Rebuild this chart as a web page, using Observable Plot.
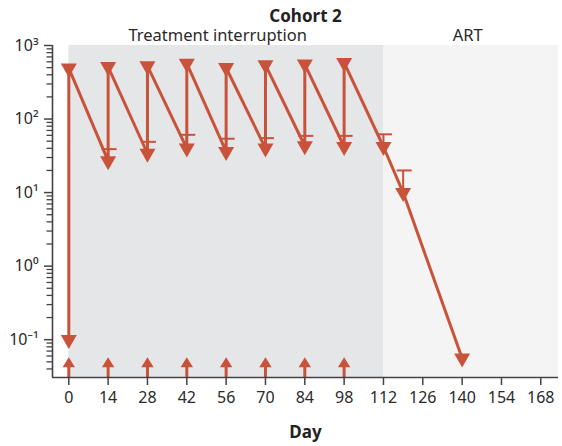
<!DOCTYPE html>
<html><head><meta charset="utf-8">
<script src="https://cdn.jsdelivr.net/npm/d3@7"></script>
<script src="https://cdn.jsdelivr.net/npm/@observablehq/plot@0.6"></script>
<style>body{margin:0;background:#fff}</style>
</head><body><div id="chart"></div>
<script>
// ---- data ----
const title = "Cohort 2";
const xLabel = "Day";
const phaseNames = ["Treatment interruption", "ART"];
const phaseStart = [0, 112];
const phaseEnd = [112, 174.3];
const phaseLabelDay = [53, 142];
const phaseFill = ["#e5e6e8", "#f4f4f4"];

const lineDays   = [0, 0, 14, 14, 28, 28, 42, 42, 56, 56, 70, 70, 84, 84, 98, 98, 112, 119, 140];
const lineValues = [0.1, 492, 27, 514, 34, 528, 40, 572, 36, 498, 40, 546, 43, 555, 42, 583, 42, 10, 0.056];

const errDays = [14, 28, 42, 56, 70, 84, 98, 112, 119];
const errLow  = [27, 34, 40, 36, 40, 43, 42, 42, 10];
const errHigh = [39, 49, 61, 54, 55, 59, 59, 62, 20];

const doseDays = [0, 14, 28, 42, 56, 70, 84, 98];

const xTicks = [0, 14, 28, 42, 56, 70, 84, 98, 112, 126, 140, 154, 168];
const yTicks = [0.1, 1, 10, 100, 1000];
const yTickLabels = ["10\u207B\u00B9", "10\u2070", "10\u00B9", "10\u00B2", "10\u00B3"];
const xDomain = [-5.8, 174.3];
const yDomain = [0.0306, 1000];

// ---- styling helpers ----
const red = "#c9533a";
const axisColor = "#444";
const minorTicks = [];
for (let e = -2; e <= 2; e++) for (let k = 2; k <= 9; k++) {
  const v = k * Math.pow(10, e);
  if (v > yDomain[0] && v < yDomain[1]) minorTicks.push(v);
}
const line = lineDays.map((d, i) => ({day: d, value: lineValues[i]}));
const errs = errDays.map((d, i) => ({day: d, lo: errLow[i], hi: errHigh[i]}));
const phases = phaseNames.map((n, i) => ({name: n, start: phaseStart[i], end: phaseEnd[i], labelDay: phaseLabelDay[i], fill: phaseFill[i]}));

const downTri = {draw(ctx) { ctx.moveTo(-8, -4.7); ctx.lineTo(8, -4.7); ctx.lineTo(0, 9.3); ctx.closePath(); }};
const capSym = {draw(ctx) { ctx.moveTo(-7.5, 0); ctx.lineTo(7.5, 0); }};
const arrowSym = {draw(ctx) {
  ctx.moveTo(0, -20.3); ctx.lineTo(6.2, -10.3); ctx.lineTo(1.5, -10.3); ctx.lineTo(1.5, 0);
  ctx.lineTo(-1.5, 0); ctx.lineTo(-1.5, -10.3); ctx.lineTo(-6.2, -10.3); ctx.closePath();
}};

const chart = Plot.plot({
  width: 562,
  height: 446,
  marginTop: 45,
  marginLeft: 52,
  marginRight: 4,
  marginBottom: 69,
  style: {fontFamily: "'Noto Sans', sans-serif", color: "#222", background: "#fff"},
  x: {domain: xDomain, label: null},
  y: {type: "log", domain: yDomain, label: null},
  marks: [
    ...phases.map(p => Plot.rect([p], {x1: "start", x2: "end", fill: p.fill})),
    Plot.text(phases, {x: "labelDay", text: "name", frameAnchor: "top", dy: -5, lineAnchor: "bottom", fontSize: 16.5, fill: "#2a2a2a"}),
    Plot.text([title], {frameAnchor: "top", dy: -24, lineAnchor: "bottom", fontSize: 17, fontWeight: "bold"}),
    Plot.text([xLabel], {frameAnchor: "bottom", dy: 60, lineAnchor: "bottom", fontSize: 17, fontWeight: "bold"}),
    Plot.ruleX(errs, {x: "day", y1: "lo", y2: "hi", stroke: red, strokeWidth: 2}),
    Plot.dot(errs, {x: "day", y: "hi", symbol: capSym, fill: "none", stroke: red, strokeWidth: 2, dx: 1}),
    Plot.line(line, {x: "day", y: "value", stroke: red, strokeWidth: 3, strokeLinejoin: "miter"}),
    Plot.dot(line, {x: "day", y: "value", symbol: downTri, fill: red, stroke: "none"}),
    Plot.dot(doseDays, {x: d => d, frameAnchor: "bottom", symbol: arrowSym, fill: red, stroke: "none"}),
    Plot.ruleY([yDomain[0]], {stroke: axisColor, strokeWidth: 1.6}),
    Plot.ruleX([xDomain[0]], {stroke: axisColor, strokeWidth: 1.6}),
    Plot.axisX({ticks: xTicks, tickSize: 8, tickPadding: 6, fontSize: 16, stroke: axisColor, fill: "#2a2a2a", strokeWidth: 1.5, label: null}),
    Plot.axisY({ticks: yTicks, tickFormat: (d) => yTickLabels[yTicks.indexOf(d)], tickSize: 8, tickPadding: 6, fontSize: 16, stroke: axisColor, fill: "#2a2a2a", strokeWidth: 1.5, label: null}),
    Plot.axisY({ticks: minorTicks, tickFormat: () => "", tickSize: 5.5, stroke: axisColor, strokeWidth: 1.3, label: null})
  ]
});
document.getElementById("chart").appendChild(chart);
</script>
</body></html>
